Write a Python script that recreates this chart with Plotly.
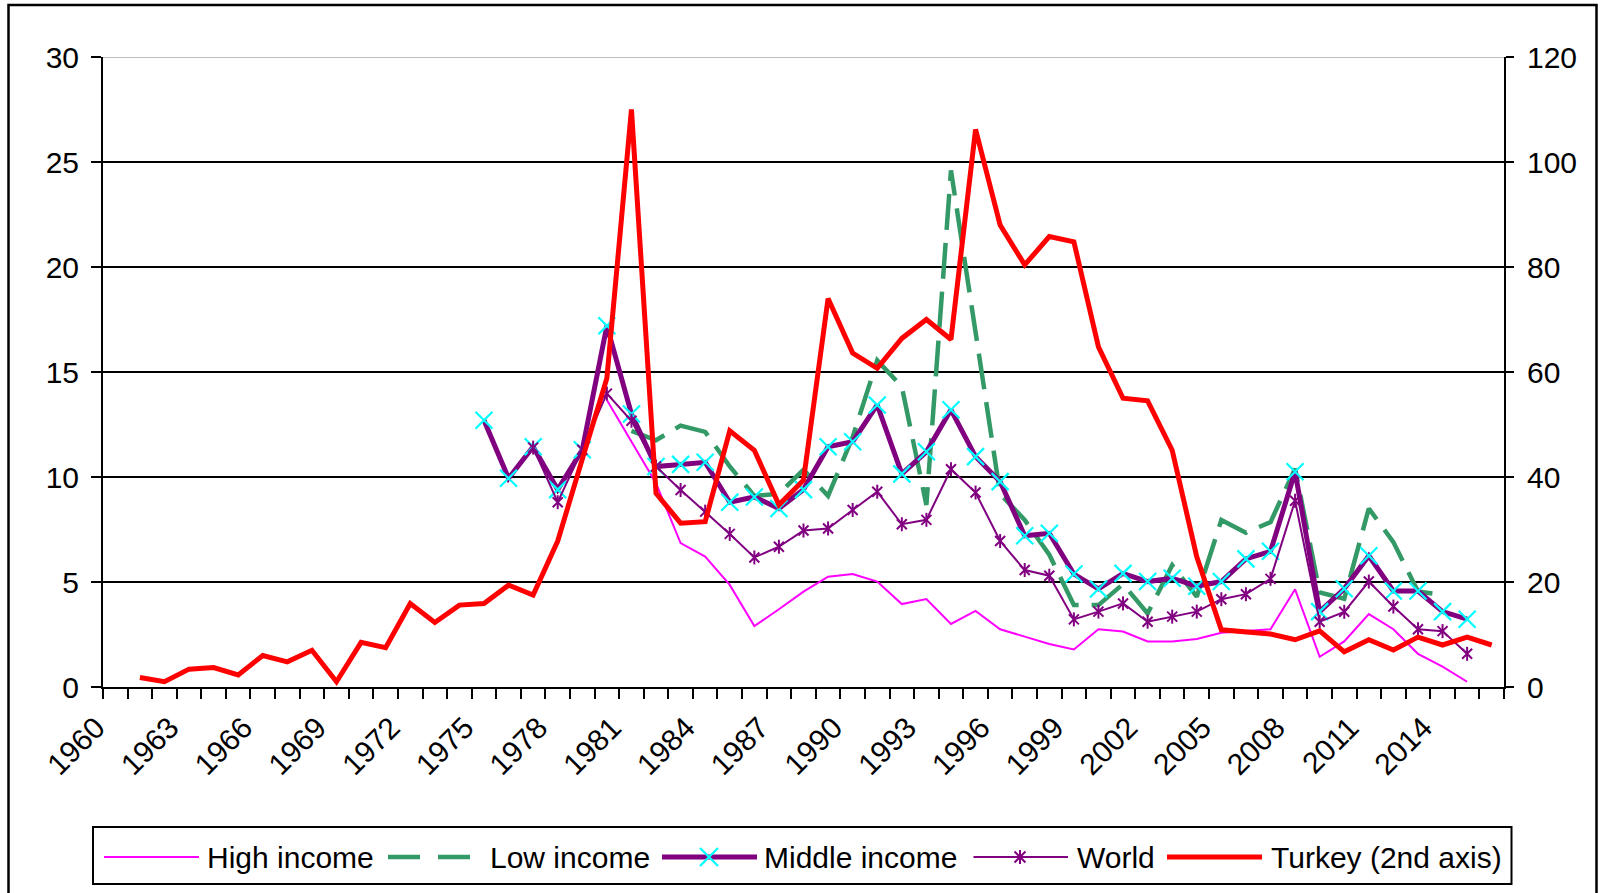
import plotly.graph_objects as go

# ---------------- data ----------------
turkey_years = list(range(1961, 2017))
turkey = [1.8, 1.0, 3.4, 3.7, 2.3, 6.0, 4.8, 7.0, 1.0, 8.5,
          7.5, 15.9, 12.3, 15.6, 15.9, 19.4, 17.5, 27.8, 43.4, 58.8,
          110.0, 36.9, 31.2, 31.5, 48.8, 45.1, 34.7, 39.4, 74.0, 63.6,
          60.7, 66.4, 70.0, 66.2, 106.2, 88.0, 80.4, 85.8, 84.8, 64.8,
          55.0, 54.5, 45.1, 24.8, 10.9, 10.5, 10.1, 9.0, 10.7, 6.7,
          9.0, 7.05, 9.5, 8.0, 9.5, 8.0]

middle_years = list(range(1975, 2016))
middle = [12.7, 9.94, 11.44, 9.4, 11.3, 17.2, 13.0, 10.5, 10.6, 10.7,
          8.8, 9.05, 8.5, 9.4, 11.44, 11.68, 13.43, 10.15, 11.2, 13.2,
          10.97, 9.78, 7.2, 7.32, 5.38, 4.67, 5.41, 5.02, 5.18, 4.8,
          5.02, 6.1, 6.46, 10.25, 3.59, 4.68, 6.25, 4.57, 4.57, 3.59, 3.23]

world_years = list(range(1977, 2016))
world = [11.4, 8.8, 11.3, 13.97, 12.68, 10.5, 9.38, 8.35, 7.29, 6.17,
         6.68, 7.45, 7.55, 8.43, 9.3, 7.75, 7.96, 10.37, 9.26, 6.95,
         5.57, 5.3, 3.22, 3.59, 3.98, 3.11, 3.35, 3.59, 4.18, 4.42,
         5.15, 8.87, 3.11, 3.58, 5.02, 3.83, 2.75, 2.66, 1.58]

high_years = list(range(1980, 2016))
high = [13.67, 11.7, 9.7, 6.85, 6.21, 4.86, 2.9, 3.7, 4.54, 5.25,
        5.38, 5.02, 3.95, 4.19, 3.0, 3.62, 2.75, 2.4, 2.05, 1.79,
        2.75, 2.64, 2.17, 2.17, 2.29, 2.58, 2.68, 2.75, 4.65, 1.44,
        2.17, 3.47, 2.75, 1.58, 0.97, 0.25]

low_years = list(range(1981, 2015))
low = [12.2, 11.75, 12.45, 12.15, 10.5, 9.1, 9.2, 10.35, 9.1, 11.9,
       15.55, 14.3, 8.67, 24.6, 16.9, 9.2, 7.95, 6.3, 3.9, 3.9,
       4.9, 3.5, 5.8, 4.3, 7.95, 7.35, 7.85, 10.4, 4.5, 4.2,
       8.5, 6.9, 4.55, 4.38]

left_range = [0, 30]
right_range = [0, 120]

legend_names = ["High income", "Low income", "Middle income", "World", "Turkey (2nd axis)"]

# ---------------- styles ----------------
W, H = 1600, 893
PX0, PX1, PY0, PY1 = 103, 1504, 57, 687   # plot area in pixels
FONT = "Liberation Sans, Arial, sans-serif"
FS = 30
MAGENTA, GREEN, PURPLE, CYAN, RED = "#FF00FF", "#339966", "#800080", "#00FFFF", "#FF0000"
GREEN_DASH = "36px,13px"


def px(x):
    return x / W


def py(y):
    return 1 - y / H


fig = go.Figure()

fig.add_trace(go.Scatter(x=high_years, y=high, name=legend_names[0], mode="lines",
                         line=dict(color=MAGENTA, width=2), showlegend=False))
fig.add_trace(go.Scatter(x=low_years, y=low, name=legend_names[1], mode="lines",
                         line=dict(color=GREEN, width=4.5, dash=GREEN_DASH), showlegend=False))
fig.add_trace(go.Scatter(x=middle_years, y=middle, name=legend_names[2], mode="lines+markers",
                         line=dict(color=PURPLE, width=5),
                         marker=dict(symbol="x-thin-open", size=17, color=CYAN,
                                     line=dict(color=CYAN, width=2.2)),
                         showlegend=False))
fig.add_trace(go.Scatter(x=world_years, y=world, name=legend_names[3], mode="lines+markers",
                         line=dict(color=PURPLE, width=2),
                         marker=dict(symbol="x-thin-open", size=10, color=PURPLE,
                                     line=dict(color=PURPLE, width=2)),
                         showlegend=False))
fig.add_trace(go.Scatter(x=world_years, y=world, mode="markers", hoverinfo="skip",
                         marker=dict(symbol="line-ns-open", size=10, color=PURPLE,
                                     line=dict(color=PURPLE, width=2)),
                         showlegend=False))
fig.add_trace(go.Scatter(x=turkey_years, y=turkey, name=legend_names[4], mode="lines",
                         line=dict(color=RED, width=5), yaxis="y2", showlegend=False))

tickfont = dict(family=FONT, size=FS, color="black")

fig.update_layout(
    width=W, height=H,
    margin=dict(l=0, r=0, t=0, b=0, pad=0, autoexpand=False),
    paper_bgcolor="white", plot_bgcolor="white",
    showlegend=False,
    xaxis=dict(domain=[px(PX0), px(PX1)], range=[1959.5, 2016.5], automargin=False,
               tickmode="linear", tick0=1960, dtick=3, tickformat="d",
               ticks="", tickangle=-45, tickfont=tickfont,
               ticklabelshift=-19, ticklabelstandoff=9,
               showline=True, linecolor="black", linewidth=2,
               showgrid=False, zeroline=False,
               minor=dict(ticks="outside", ticklen=10, tickwidth=2, tickcolor="black",
                          tickmode="linear", tick0=1959.5, dtick=1, showgrid=False)),
    yaxis=dict(domain=[py(PY1), py(PY0)], range=left_range, dtick=5, automargin=False,
               ticks="outside", ticklen=10, tickwidth=2, tickcolor="black",
               ticklabelstandoff=6,
               tickfont=tickfont, showline=True, linecolor="black", linewidth=2,
               showgrid=False, zeroline=False),
    yaxis2=dict(overlaying="y", side="right", anchor="x", range=right_range, dtick=20,
                automargin=False,
                ticks="outside", ticklen=8, tickwidth=2, tickcolor="black",
                ticklabelstandoff=7,
                tickfont=tickfont, showline=True, linecolor="black", linewidth=2,
                showgrid=False, zeroline=False),
)

shapes = []
# horizontal gridlines
for v in range(5, 30, 5):
    shapes.append(dict(type="line", xref="paper", yref="y", x0=px(PX0), x1=px(PX1),
                       y0=v, y1=v, line=dict(color="black", width=2), layer="below"))
shapes.append(dict(type="line", xref="paper", yref="y", x0=px(PX0), x1=px(PX1),
                   y0=30, y1=30, line=dict(color="#BDBDBD", width=2), layer="below"))
# outer chart border
shapes.append(dict(type="rect", xref="paper", yref="paper", x0=px(8.5), x1=px(1596.5),
                   y0=py(H + 20), y1=py(5), line=dict(color="black", width=2.5)))
# legend box
LY = 857
shapes.append(dict(type="rect", xref="paper", yref="paper", x0=px(93), x1=px(1511.5),
                   y0=py(884), y1=py(827), line=dict(color="black", width=2)))
# legend samples
shapes.append(dict(type="line", xref="paper", yref="paper", x0=px(104), x1=px(199),
                   y0=py(LY), y1=py(LY), line=dict(color=MAGENTA, width=2)))
shapes.append(dict(type="line", xref="paper", yref="paper", x0=px(388), x1=px(471),
                   y0=py(LY), y1=py(LY), line=dict(color=GREEN, width=4.5, dash="32px,18px")))
shapes.append(dict(type="line", xref="paper", yref="paper", x0=px(662), x1=px(757),
                   y0=py(LY), y1=py(LY), line=dict(color=PURPLE, width=5)))
mx, r = 709, 9
shapes.append(dict(type="path", xref="paper", yref="paper",
                   path=f"M{px(mx-r)},{py(LY-r)} L{px(mx+r)},{py(LY+r)} M{px(mx-r)},{py(LY+r)} L{px(mx+r)},{py(LY-r)}",
                   line=dict(color=CYAN, width=2.2)))
shapes.append(dict(type="line", xref="paper", yref="paper", x0=px(973.5), x1=px(1068),
                   y0=py(LY), y1=py(LY), line=dict(color=PURPLE, width=2)))
sx, s = 1020, 5.5
shapes.append(dict(type="path", xref="paper", yref="paper",
                   path=(f"M{px(sx-s)},{py(LY-s)} L{px(sx+s)},{py(LY+s)} "
                         f"M{px(sx-s)},{py(LY+s)} L{px(sx+s)},{py(LY-s)} "
                         f"M{px(sx)},{py(LY-s-1.5)} L{px(sx)},{py(LY+s+1.5)}"),
                   line=dict(color=PURPLE, width=2)))
shapes.append(dict(type="line", xref="paper", yref="paper", x0=px(1167), x1=px(1262),
                   y0=py(LY), y1=py(LY), line=dict(color=RED, width=5)))

fig.update_layout(shapes=shapes)

ann = []
for name, x0 in zip(legend_names, [205, 487.5, 762, 1074.5, 1268.5]):
    ann.append(dict(text=name, x=px(x0), y=py(LY), xref="paper", yref="paper",
                    xanchor="left", yanchor="middle", showarrow=False,
                    font=dict(family=FONT, size=FS, color="black")))
fig.update_layout(annotations=ann)

fig.write_html("out.html", config={"displayModeBar": False},
               post_script="document.body.style.margin='0';document.body.style.overflow='hidden';")
